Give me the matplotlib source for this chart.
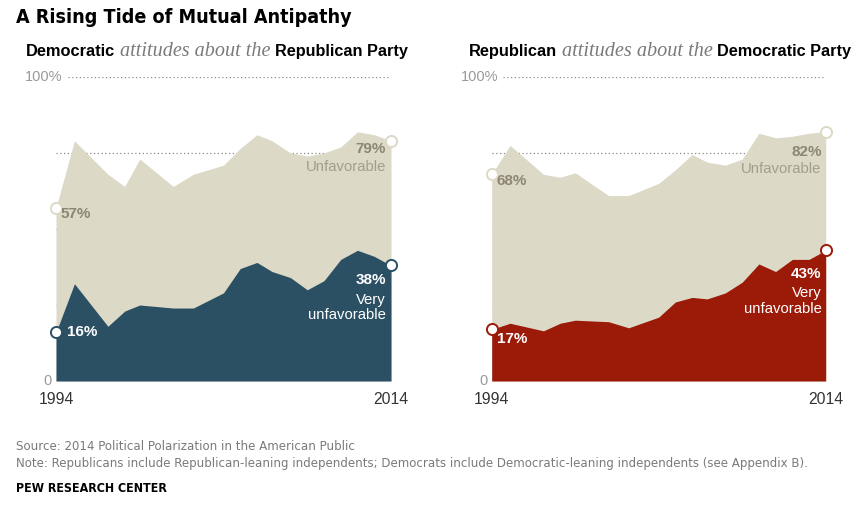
import matplotlib
matplotlib.use('Agg')
import matplotlib.pyplot as plt

# survey waves (fractional year)
years = [1994, 1995.1, 1997.1, 1998.1, 1999, 2001, 2002.2, 2004, 2005, 2006,
         2006.9, 2008, 2009, 2010, 2011, 2012, 2013, 2014]

# Democratic attitudes about the Republican Party
dem_unfav = [57, 79, 68, 64, 73, 64, 68, 71, 76.5, 81, 79, 75, 74, 75, 77, 82, 81, 79]
dem_very = [16, 32, 18, 23, 25, 24, 24, 29, 37, 39, 36, 34, 30, 33, 40, 43, 41, 38]

# Republican attitudes about the Democratic Party
rep_unfav = [68, 77.5, 68, 67, 68.5, 61, 61, 65, 69.5, 74.5, 72, 71, 73, 81.5, 80, 80.5, 81.5, 82]
rep_very = [17, 19, 16.5, 19, 20, 19.5, 17.5, 21, 26, 27.5, 27, 29, 32.5, 38.5, 36, 40, 40, 43]

BEIGE = '#dcd9c6'
BLUE = '#2b5064'
RED = '#9c1a08'
LBL = '#8c8673'
UNF = '#a39e8c'

W, H = 858, 509
fig = plt.figure(figsize=(W / 100, H / 100), dpi=100)
r = fig.canvas.get_renderer()


def put(x, y, s, width=None, **kw):
    # x = left edge px, y = baseline px from top
    t = fig.text(x / W, 1 - y / H, s, va='baseline', **kw)
    if width:
        w = t.get_window_extent(r).width
        t.set_fontsize(t.get_fontsize() * width / w)
    return t


SANS = ['Liberation Sans', 'DejaVu Sans']
SERIF = ['Liberation Serif', 'DejaVu Serif']
COND = ['DejaVu Sans']

put(16, 23, 'A Rising Tide of Mutual Antipathy', width=336,
    family=COND, stretch='condensed', weight='bold', fontsize=17, color='black')

# subtitles
put(26, 56, 'Democratic', width=89, family=SANS, weight='bold', fontsize=12)
put(120, 56, 'attitudes about the', width=149, family=SERIF, style='italic',
    fontsize=13, color='#7a7a7a')
put(275, 56, 'Republican Party', width=132, family=SANS, weight='bold', fontsize=12)

put(469, 56, 'Republican', width=88, family=SANS, weight='bold', fontsize=12)
put(562, 56, 'attitudes about the', width=150, family=SERIF, style='italic',
    fontsize=13, color='#7a7a7a')
put(717, 56, 'Democratic Party', width=134, family=SANS, weight='bold', fontsize=12)

# footer
note = put(16, 467, 'Note: Republicans include Republican-leaning independents; Democrats '
           'include Democratic-leaning independents (see Appendix B).', width=794,
           family=COND, stretch='condensed', fontsize=10.5, color='#7a7a7a')
put(16, 450, 'Source: 2014 Political Polarization in the American Public',
    family=COND, stretch='condensed', fontsize=note.get_fontsize(), color='#7a7a7a')
put(16, 492, 'PEW RESEARCH CENTER', width=152, family=COND, stretch='condensed',
    weight='bold', fontsize=10.5, color='black')


def panel(x0, x1, unfav, very, color, lbl):
    ax = fig.add_axes([x0 / W, (H - 381) / H, (x1 - x0) / W, 304 / H])
    ax.set_xlim(1994, 2014)
    ax.set_ylim(0, 100)
    ax.axis('off')
    for g in (25, 50, 75):
        ax.axhline(g, color='#8a8a8a', lw=0.9, ls=(0, (1, 2)), zorder=0)
    ax.axhline(100, xmin=0.035, color='#8a8a8a', lw=0.9, ls=(0, (1, 2)), zorder=0)
    ax.fill_between(years, 0, unfav, color=BEIGE, lw=0, zorder=1)
    ax.fill_between(years, 0, very, color=color, lw=0, zorder=2)
    ends = [years[0], years[-1]]
    ax.plot(ends, [unfav[0], unfav[-1]], 'o', ms=8, mfc='white', mec=BEIGE,
            mew=1.4, zorder=5, clip_on=False)
    ax.plot(ends, [very[0], very[-1]], 'o', ms=8, mfc='white', mec=color,
            mew=1.4, zorder=5, clip_on=False)

    ax.text(0.02, 100, '100%', transform=ax.get_yaxis_transform(), ha='right',
            va='center', fontsize=10.5, color='#9a9a9a', family=SANS)
    ax.text(-0.012, 0, '0', transform=ax.get_yaxis_transform(), ha='right',
            va='center', fontsize=10.5, color='#9a9a9a', family=SANS)
    for yr in (1994, 2014):
        ax.annotate(str(yr), (yr, 0), xytext=(0, -23), textcoords='offset pixels',
                    ha='center', va='baseline', fontsize=11.3, color='#333333',
                    family=SANS, annotation_clip=False)
    for o in lbl:
        ax.annotate(o[0], o[1], xytext=o[2], textcoords='offset pixels',
                    ha=o[3], va='center', fontsize=o[4], weight=o[5],
                    color=o[6], family=SANS, zorder=6, annotation_clip=False,
                    linespacing=1.15)
    return ax


panel(56, 391, dem_unfav, dem_very, BLUE, [
    (f'{dem_unfav[0]}%', (years[0], dem_unfav[0]), (4, -6), 'left', 11, 'bold', LBL),
    (f'{dem_very[0]}%', (years[0], dem_very[0]), (11, 0), 'left', 11, 'bold', 'white'),
    (f'{dem_unfav[-1]}%', (years[-1], dem_unfav[-1]), (-5, -8), 'right', 11, 'bold', LBL),
    ('Unfavorable', (years[-1], dem_unfav[-1]), (-5, -26), 'right', 10.7, 'normal', UNF),
    (f'{dem_very[-1]}%', (years[-1], dem_very[-1]), (-5, -15), 'right', 11, 'bold', 'white'),
    ('Very\nunfavorable', (years[-1], dem_very[-1]), (-5, -42), 'right', 10.7, 'normal', 'white'),
])

panel(491.7, 825.7, rep_unfav, rep_very, RED, [
    (f'{rep_unfav[0]}%', (years[0], rep_unfav[0]), (5, -7), 'left', 11, 'bold', LBL),
    (f'{rep_very[0]}%', (years[0], rep_very[0]), (5, -10), 'left', 11, 'bold', 'white'),
    (f'{rep_unfav[-1]}%', (years[-1], rep_unfav[-1]), (-4, -20), 'right', 11, 'bold', LBL),
    ('Unfavorable', (years[-1], rep_unfav[-1]), (-4, -37), 'right', 10.7, 'normal', UNF),
    (f'{rep_very[-1]}%', (years[-1], rep_very[-1]), (-4, -24), 'right', 11, 'bold', 'white'),
    ('Very\nunfavorable', (years[-1], rep_very[-1]), (-4, -51), 'right', 10.7, 'normal', 'white'),
])

fig.savefig('out.png', dpi=100)
